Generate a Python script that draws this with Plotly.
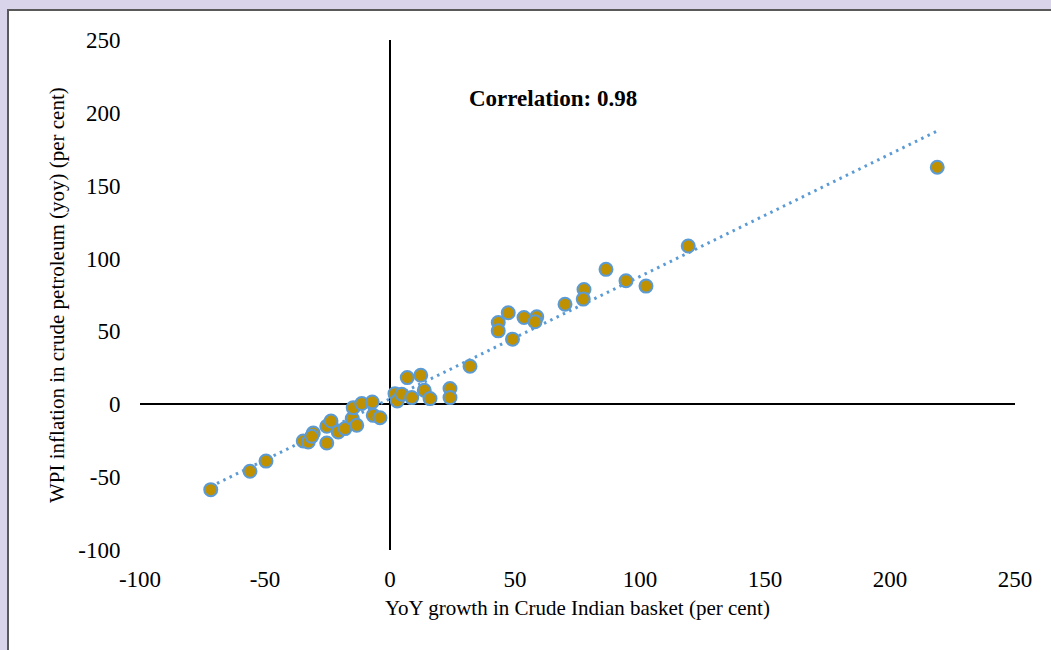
import numpy as np
import plotly.graph_objects as go

# YoY growth in Crude Indian basket (per cent)
crude_growth = [-71.7, -56.0, -49.6, -34.7, -32.7, -30.7, -31.3, -25.3, -25.3, -23.6,
                -20.7, -18.0, -15.1, -13.3, -14.7, -11.3, -7.1, -6.7, -4.0, 2.0,
                2.9, 4.7, 6.9, 12.3, 8.7, 13.7, 16.0, 24.0, 24.0, 32.0,
                43.3, 43.3, 47.3, 49.0, 53.6, 58.7, 58.0, 70.0, 77.6, 77.3,
                86.4, 94.4, 102.4, 119.3, 218.9]
# WPI inflation in crude petroleum (yoy) (per cent)
wpi_crude = [-58.6, -46.0, -39.0, -25.2, -25.9, -19.7, -22.0, -26.6, -15.1, -11.5,
             -19.0, -16.7, -9.8, -14.4, -2.3, 0.5, 1.6, -7.6, -9.2, 7.3,
             2.3, 6.9, 18.3, 19.9, 4.6, 9.6, 3.9, 10.8, 4.6, 26.1,
             56.1, 50.4, 62.8, 44.7, 59.6, 60.0, 56.6, 68.7, 78.8, 72.2,
             92.6, 84.8, 81.1, 108.6, 162.7]

tick_vals = [-100, -50, 0, 50, 100, 150, 200, 250]
tick_text = ["-100", "-50", "0", "50", "100", "150", "200", "250"]
annotation_text = "Correlation: 0.98"
x_title = "YoY growth in Crude Indian basket (per cent)"
y_title = "WPI inflation in crude petroleum (yoy) (per cent)"

FONT = "Times New Roman, Liberation Serif, serif"
W, H = 1051, 650
ML, MR, MT, MB = 140, 36, 40, 100
PW, PH = W - ML - MR, H - MT - MB

def px_to_paper_x(px):
    return (px - ML) / PW

def px_to_paper_y(py):
    return (H - MB - py) / PH

# linear trendline from data
xs = np.array(crude_growth)
ys = np.array(wpi_crude)
slope, intercept = np.polyfit(xs, ys, 1)
tx = np.array([xs.min(), xs.max()])
ty = slope * tx + intercept

fig = go.Figure()
fig.add_trace(go.Scatter(
    x=tx, y=ty, mode="lines",
    line=dict(color="#5B9BD5", width=3, dash="2.5px,4.5px"),
    hoverinfo="skip", showlegend=False))
fig.add_trace(go.Scatter(
    x=crude_growth, y=wpi_crude, mode="markers",
    marker=dict(size=13, color="#BF9000", line=dict(color="#5B9BD5", width=2)),
    showlegend=False))

fig.add_shape(type="rect", xref="paper", yref="paper",
              x0=px_to_paper_x(8), x1=px_to_paper_x(1065),
              y0=px_to_paper_y(665), y1=px_to_paper_y(10),
              fillcolor="white", line=dict(color="#595959", width=2), layer="below")

fig.add_annotation(x=65, y=210, text="<b>" + annotation_text + "</b>", showarrow=False,
                   xanchor="center", yanchor="middle",
                   font=dict(family=FONT, size=23, color="black"))
fig.add_annotation(xref="paper", yref="paper", x=0.5, y=px_to_paper_y(608),
                   xanchor="center", yanchor="middle",
                   text=x_title, showarrow=False,
                   font=dict(family=FONT, size=21, color="black"))
fig.add_annotation(xref="paper", yref="paper", x=px_to_paper_x(57), y=0.5,
                   xanchor="center", yanchor="middle",
                   text=y_title, showarrow=False, textangle=-90,
                   font=dict(family=FONT, size=21, color="black"))

axis_common = dict(
    tickvals=tick_vals, ticktext=tick_text, showgrid=False, zeroline=True,
    zerolinecolor="black", zerolinewidth=2, showline=False, ticks="outside",
    tickcolor="rgba(0,0,0,0)", tickfont=dict(family=FONT, size=23, color="black"))

fig.update_xaxes(range=[-100, 250], ticklen=8, **axis_common)
fig.update_yaxes(range=[-100, 250], ticklen=14, **axis_common)

fig.update_layout(
    width=W, height=H,
    margin=dict(l=ML, r=MR, t=MT, b=MB),
    paper_bgcolor="#D9D4E9", plot_bgcolor="white",
    font=dict(family=FONT, color="black"),
)

fig.write_html("out.html", config={"displayModeBar": False},
               post_script="document.body.style.margin='0';document.body.style.overflow='hidden';")
